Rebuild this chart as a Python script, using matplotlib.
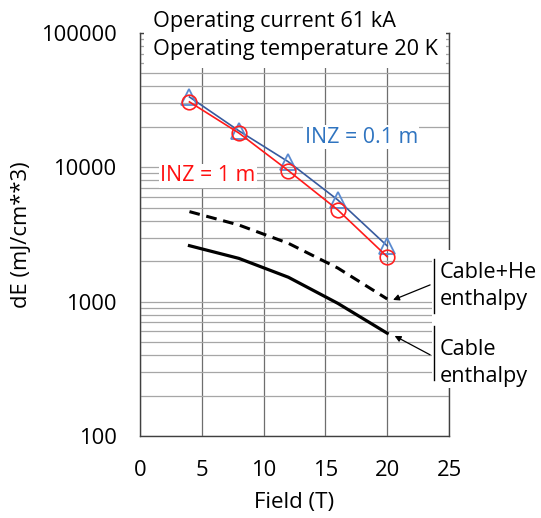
import matplotlib.pyplot as plt
from matplotlib.lines import Line2D
from matplotlib.patches import Rectangle

plt.rcParams['font.family'] = ['Open Sans', 'DejaVu Sans']

# Field values (T) and normalised energy margins dE (mJ/cm**3)
field = [4, 8, 12, 16, 20]
de_inz_01 = [33400, 18700, 11000, 5720, 2600]
de_inz_1 = [30700, 18000, 9450, 4820, 2160]
cable_he_enthalpy = [4680, 3720, 2720, 1780, 1047]
cable_enthalpy = [2610, 2100, 1520, 972, 582]

fig = plt.figure(figsize=(5.41, 5.18), dpi=100)
ax = fig.add_axes([0.2588, 0.1583, 0.5712, 0.778])

ax.set_yscale('log')
ax.set_xlim(0, 25)
ax.set_ylim(100, 100000)
ax.set_xticks([0, 5, 10, 15, 20, 25])
ax.set_yticks([100, 1000, 10000, 100000])
ax.set_yticklabels(['100', '1000', '10000', '100000'])
ax.tick_params(which='both', length=0, labelsize=15.8, colors='black')
ax.tick_params(axis='y', pad=17)
ax.tick_params(axis='x', pad=17)

ax.grid(axis='y', which='both', color='#A6A6A6', lw=0.9)
ax.grid(axis='x', which='major', color='#6E6E6E', lw=0.9)
ax.set_axisbelow(True)
for side in ['left', 'bottom', 'right', 'top']:
    ax.spines[side].set_color('#404040')
    ax.spines[side].set_linewidth(1.0)

ax.plot(field, cable_he_enthalpy, color='black', lw=2.2, ls=(0, (3.5, 2.2)))
ax.plot(field, cable_enthalpy, color='black', lw=2.3)

ax.plot(field, de_inz_01, color='#375A9E', lw=1.2, marker='^', markersize=12,
        markerfacecolor='none', markeredgecolor='#5A8AD0', markeredgewidth=1.3)
ax.plot(field, de_inz_1, color='#FF1A1A', lw=1.2, marker='o', markersize=10.5,
        markerfacecolor='none', markeredgecolor='#FF2020', markeredgewidth=1.2)

ax.text(17.9, 16800, 'INZ = 0.1 m', color='#2F74C0', fontsize=15.4,
        ha='center', va='center',
        bbox=dict(facecolor='white', edgecolor='none', pad=1))
ax.text(5.5, 8630, 'INZ = 1 m', color='#FF1010', fontsize=15.4,
        ha='center', va='center',
        bbox=dict(facecolor='white', edgecolor='none', pad=1))

ax.set_xlabel('Field (T)', fontsize=16, labelpad=8)
ax.set_ylabel('dE (mJ/cm**3)', fontsize=15.8, labelpad=6)

# white panels behind the header text and the enthalpy labels
fig.add_artist(Rectangle((0.266, 0.8687), 0.558, 0.1313, transform=fig.transFigure,
                         facecolor='white', edgecolor='none', zorder=3))
fig.add_artist(Rectangle((0.7985, 0.251), 0.2015, 0.266, transform=fig.transFigure,
                         facecolor='white', edgecolor='none', zorder=3))

fig.text(0.283, 0.9485, 'Operating current 61 kA', fontsize=15.6, zorder=4)
fig.text(0.283, 0.8938, 'Operating temperature 20 K', fontsize=15.6, zorder=4)

fig.add_artist(Line2D([0.802, 0.802], [0.396, 0.500], transform=fig.transFigure,
                      color='black', lw=1.0, zorder=4))
fig.add_artist(Line2D([0.802, 0.802], [0.266, 0.371], transform=fig.transFigure,
                      color='black', lw=1.0, zorder=4))
fig.text(0.813, 0.4633, 'Cable+He', fontsize=15.6, zorder=4)
fig.text(0.813, 0.4112, 'enthalpy', fontsize=15.6, zorder=4)
fig.text(0.813, 0.3147, 'Cable', fontsize=15.6, zorder=4)
fig.text(0.813, 0.2625, 'enthalpy', fontsize=15.6, zorder=4)

arrow = dict(arrowstyle='-|>', color='black', lw=0.9, mutation_scale=9,
             shrinkA=0, shrinkB=0)
ax.annotate('', xy=(20.47, 1030), xycoords='data',
            xytext=(0.795, 0.450), textcoords='figure fraction', arrowprops=arrow)
ax.annotate('', xy=(20.6, 556), xycoords='data',
            xytext=(0.795, 0.315), textcoords='figure fraction', arrowprops=arrow)

fig.savefig('out.png', dpi=100)
